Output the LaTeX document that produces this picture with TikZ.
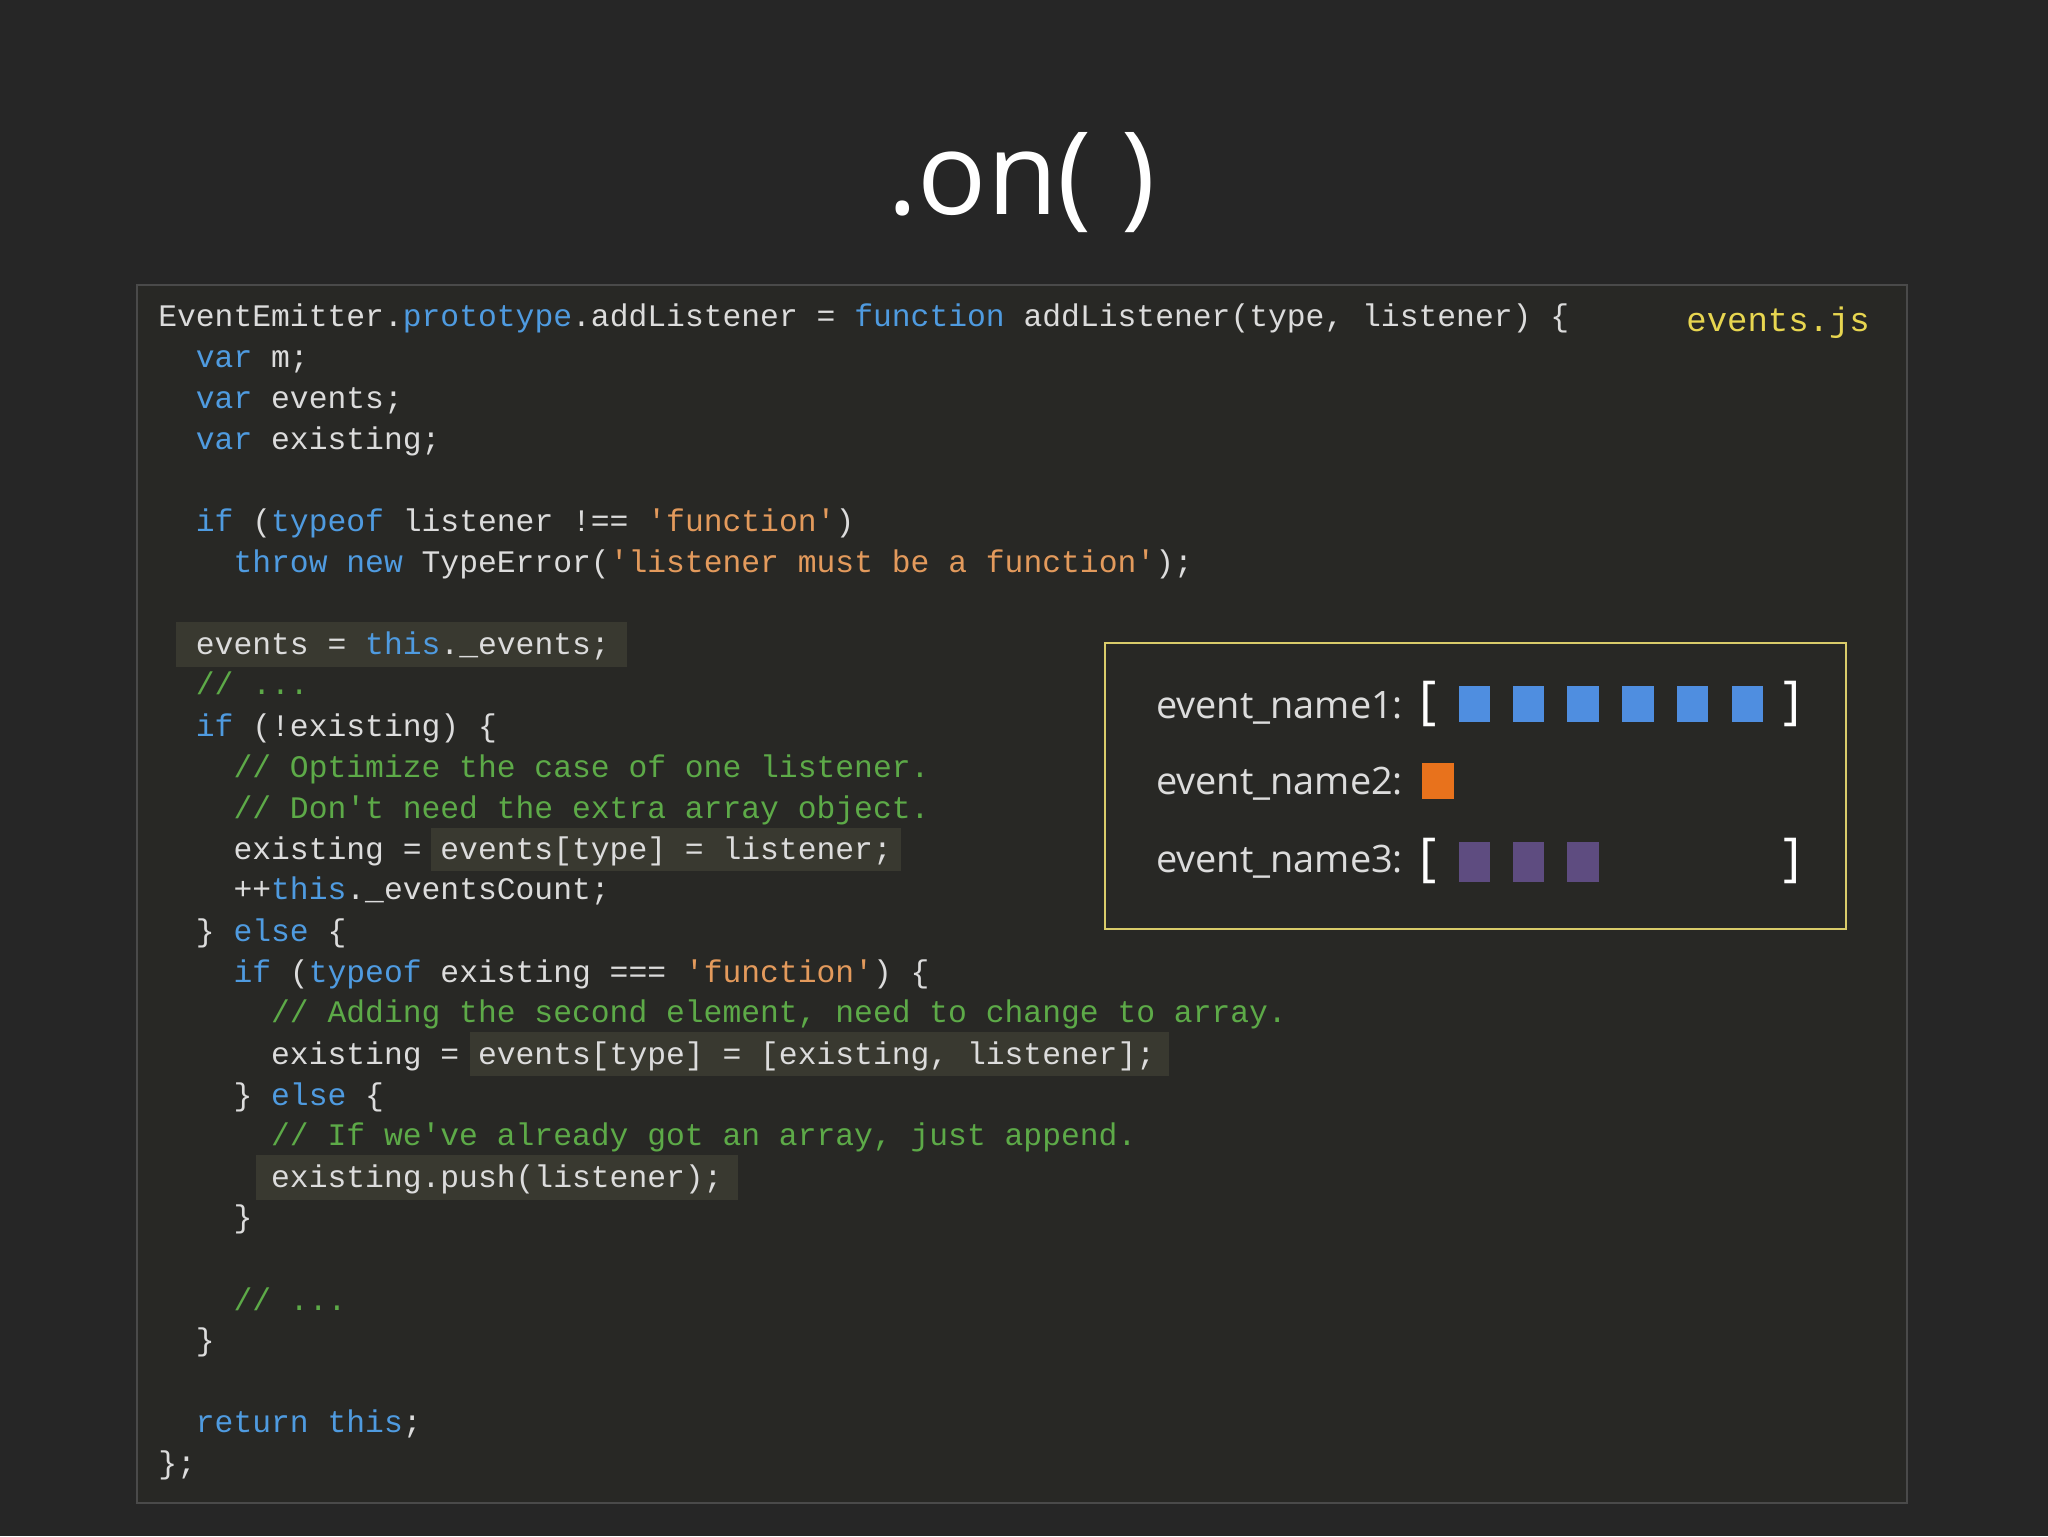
\documentclass[tikz,border=0pt]{standalone}
\usepackage{fontspec}
\setmainfont{Open Sans}
\newfontfamily\codefont{Liberation Mono}
\definecolor{bg}{HTML}{262626}
\definecolor{panel}{HTML}{282825}
\definecolor{pborder}{HTML}{4A4A4A}
\definecolor{hl}{HTML}{393930}
\definecolor{txt}{HTML}{DCDCDC}
\definecolor{kw}{HTML}{4F9BE0}
\definecolor{str}{HTML}{E39A5C}
\definecolor{cm}{HTML}{5DAA48}
\definecolor{yel}{HTML}{E8D650}
\definecolor{ybox}{HTML}{D9CB6A}
\definecolor{sqblue}{HTML}{4F8EE0}
\definecolor{sqor}{HTML}{E8721C}
\definecolor{sqpu}{HTML}{5E4C80}
\newcommand\K[1]{\textcolor{kw}{#1}}
\newcommand\Str[1]{\textcolor{str}{#1}}
\newcommand\Cm[1]{\textcolor{cm}{#1}}
\tikzset{
 codeln/.style={anchor=base west,inner sep=0pt,text=txt,font=\codefont\fontsize{24}{24}\selectfont},
 hlbox/.style={fill=hl,draw=none},
 lbl/.style={anchor=base west,inner sep=0pt,text=txt,font=\fontsize{29}{29}\selectfont},
 brk/.style={anchor=center,inner sep=0pt,text=white,font=\fontsize{40}{40}\selectfont},
}
\newcommand\CL[4]{\node[codeln] (#1) at ({121+#2*14.4},{#3+8}) {#4};}
\begin{document}
\begin{tikzpicture}[x=1pt,y=-1pt]
\fill[bg] (0,0) rectangle (1568,1176);
\useasboundingbox (0,0) rectangle (1568,1176);
\node[text=white,font=\fontsize{88}{88}\selectfont,inner sep=0pt] (title) at (782,140) {.on( )};
\draw[pborder,fill=panel,line width=1.5pt] (105,218) rectangle (1460,1151);
\fill[hl] (135,476) rectangle (480,511);
\fill[hl] (330,634) rectangle (690,667);
\fill[hl] (360,790) rectangle (895,824);
\fill[hl] (196,884) rectangle (565,919);
\node[codeln,text=yel,font=\codefont\fontsize{26}{26}\selectfont] (file) at (1291,254) {events.js};
\CL{l0}{0}{242}{EventEmitter.\K{prototype}.addListener = \K{function} addListener(type, listener) \{}
\CL{l1}{2}{273}{\K{var} m;}
\CL{l2}{2}{305}{\K{var} events;}
\CL{l3}{2}{336}{\K{var} existing;}
\CL{l5}{2}{399}{\K{if} (\K{typeof} listener !== \Str{'function'})}
\CL{l6}{4}{430}{\K{throw} \K{new} TypeError(\Str{'listener must be a function'});}
\CL{l8}{2}{493}{events = \K{this}.\_events;}
\CL{l9}{2}{524}{\Cm{// ...}}
\CL{l10}{2}{556}{\K{if} (!existing) \{}
\CL{l11}{4}{587}{\Cm{// Optimize the case of one listener.}}
\CL{l12}{4}{619}{\Cm{// Don't need the extra array object.}}
\CL{l13}{4}{650}{existing = events[type] = listener;}
\CL{l14}{4}{681}{++\K{this}.\_eventsCount;}
\CL{l15}{2}{713}{\} \K{else} \{}
\CL{l16}{4}{744}{\K{if} (\K{typeof} existing === \Str{'function'}) \{}
\CL{l17}{6}{775}{\Cm{// Adding the second element, need to change to array.}}
\CL{l18}{6}{807}{existing = events[type] = [existing, listener];}
\CL{l19}{4}{838}{\} \K{else} \{}
\CL{l20}{6}{869}{\Cm{// If we've already got an array, just append.}}
\CL{l21}{6}{901}{existing.push(listener);}
\CL{l22}{4}{932}{\}}
\CL{l24}{4}{995}{\Cm{// ...}}
\CL{l25}{2}{1026}{\}}
\CL{l27}{2}{1089}{\K{return} \K{this};}
\CL{l28}{0}{1120}{\};}
% right box
\draw[ybox,line width=1.5pt] (846,492) rectangle (1413,711);
\node[lbl] (n1) at (885,550) {event\_name1:};
\node[lbl] (n2) at (885,608) {event\_name2:};
\node[lbl] (n3) at (885,668) {event\_name3:};
\node[brk] (b1l) at (1093,539) {[};
\node[brk] (b1r) at (1372,539) {]};
\node[brk] (b3l) at (1093,659) {[};
\node[brk] (b3r) at (1372,659) {]};
\foreach \x in {1117,1158,1200,1242,1284,1326}
  \fill[sqblue] (\x,525) rectangle ++(24,28);
\fill[sqor] (1089,584) rectangle ++(24,28);
\foreach \x in {1117,1158,1200}
  \fill[sqpu] (\x,645) rectangle ++(24,30);
\end{tikzpicture}
\end{document}
